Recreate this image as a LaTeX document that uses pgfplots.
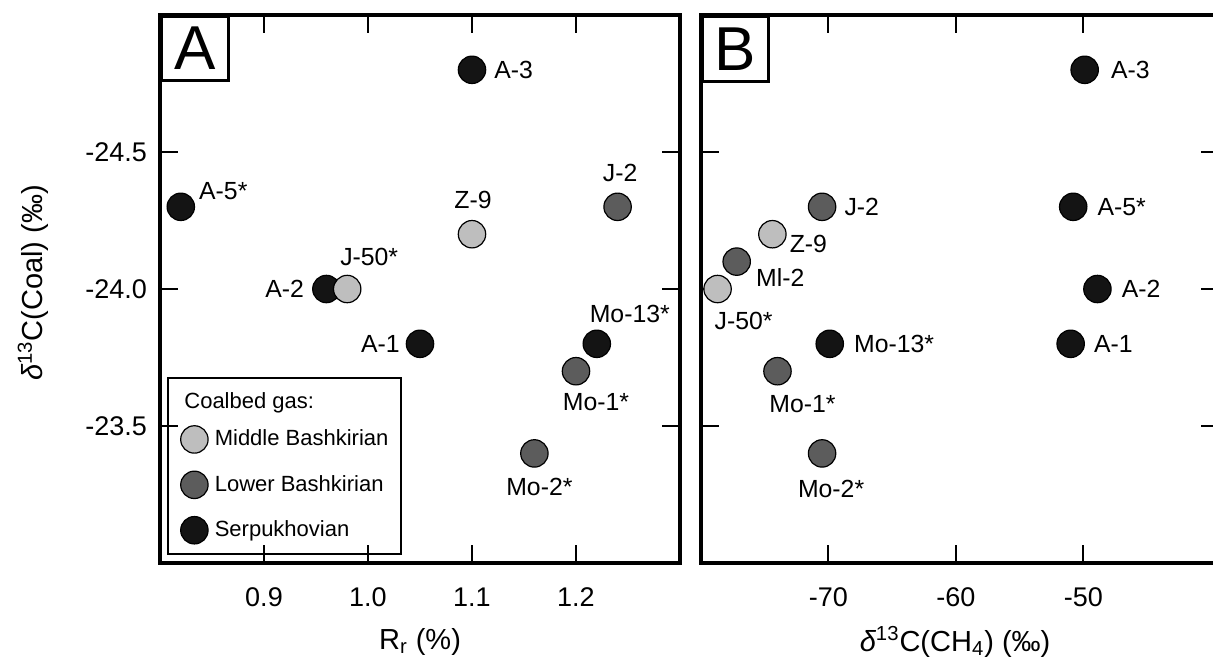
\documentclass[border=0pt]{standalone}
\usepackage{pgfplots}
\pgfplotsset{compat=1.18}
\usepackage{fontspec}
\setmainfont{Liberation Sans}

\definecolor{mbash}{HTML}{BEBEBE}
\definecolor{lbash}{HTML}{5C5C5C}
\definecolor{serp}{HTML}{141414}

\tikzset{lbl/.style={inner sep=0pt, font=\fontsize{12.4}{14}\selectfont}}
\pgfplotsset{
  mb/.style={mark=*, mark size=6.85pt, draw=none, mark options={fill=mbash, draw=black, line width=0.6pt}},
  lb/.style={mark=*, mark size=6.85pt, draw=none, mark options={fill=lbash, draw=black, line width=0.6pt}},
  sp/.style={mark=*, mark size=6.85pt, draw=none, mark options={fill=serp, draw=black, line width=0.6pt}},
  common/.style={
    scale only axis, height=274pt, clip=false, axis on top,
    y dir=reverse, ymin=-25, ymax=-23, ytick={-24.5,-24,-23.5},
    axis line style={line width=2.1pt},
    tick align=inside, major tick length=9pt,
    every tick/.append style={line width=1pt, black},
    tick label style={font=\fontsize{13.5}{16}\selectfont},
    /pgf/number format/assume math mode=true,
    xticklabel style={anchor=center, yshift=-17pt},
    label style={font=\fontsize{14.5}{17}\selectfont},
    xlabel style={at={(axis description cs:0.5,-0.1442)}, anchor=center},
  },
}

\begin{document}
\begin{tikzpicture}
\useasboundingbox (-80pt,-48.5pt) rectangle (526.5pt,281.5pt);

% Panel A
\begin{axis}[common, at={(0pt,0pt)}, anchor=south west, width=260pt,
  xmin=0.8, xmax=1.3, xtick={0.9,1.0,1.1,1.2},
  xticklabel style={/pgf/number format/.cd, fixed, fixed zerofill, precision=1},
  yticklabel style={xshift=-3pt, /pgf/number format/.cd, fixed, fixed zerofill, precision=1},
  xlabel={R\textsubscript{r} (\%)},
  ylabel={{\itshape δ}\textsuperscript{13}C(Coal) (‰)},
  ylabel style={at={(axis description cs:-0.2442,0.511)}, anchor=center},
  legend image code/.code={\draw[#1] plot coordinates {(0pt,0pt)};},
  legend style={draw=none, fill=none, at={(0.0398,0.2505)}, anchor=north west,
    inner sep=0pt, outer sep=0pt, row sep=9pt, column sep=3.35pt,
    font=\fontsize{11}{13}\selectfont, nodes={inner sep=0pt}},
  legend cell align=left,
]
\addlegendimage{mb}\addlegendentry{Middle Bashkirian}
\addlegendimage{lb}\addlegendentry{Lower Bashkirian}
\addlegendimage{sp}\addlegendentry{Serpukhovian}

% Serpukhovian
\addplot[sp, only marks, forget plot] coordinates {
  (1.10,-24.80) (0.82,-24.30) (0.96,-24.00) (1.05,-23.80) (1.22,-23.80)};
% Lower Bashkirian
\addplot[lb, only marks, forget plot] coordinates {
  (1.24,-24.30) (1.20,-23.70) (1.16,-23.40)};
% Middle Bashkirian
\addplot[mb, only marks, forget plot] coordinates {
  (1.10,-24.20) (0.98,-24.00)};

\node[lbl, anchor=west, xshift=11pt] at (axis cs:1.10,-24.80) {A-3};
\node[lbl, anchor=west, xshift=9pt, yshift=8pt] at (axis cs:0.82,-24.30) {A-5*};
\node[lbl, anchor=center, xshift=11pt, yshift=16pt] at (axis cs:0.98,-24.00) {J-50*};
\node[lbl, anchor=east, xshift=-11pt] at (axis cs:0.96,-24.00) {A-2};
\node[lbl, anchor=center, xshift=0.5pt, yshift=17pt] at (axis cs:1.10,-24.20) {Z-9};
\node[lbl, anchor=center, xshift=1.3pt, yshift=17pt] at (axis cs:1.24,-24.30) {J-2};
\node[lbl, anchor=east, xshift=-10pt] at (axis cs:1.05,-23.80) {A-1};
\node[lbl, anchor=center, xshift=16.5pt, yshift=14.75pt] at (axis cs:1.22,-23.80) {Mo-13*};
\node[lbl, anchor=center, xshift=10pt, yshift=-15.5pt] at (axis cs:1.20,-23.70) {Mo-1*};
\node[lbl, anchor=center, xshift=2.5pt, yshift=-17pt] at (axis cs:1.16,-23.40) {Mo-2*};

% legend frame and title
\draw[line width=1.2pt] (axis description cs:0.01538,0.01642) rectangle (axis description cs:0.4635,0.3376);
\node[anchor=west, inner sep=0pt, font=\fontsize{11}{13}\selectfont] at (axis description cs:0.04615,0.2920) {Coalbed gas:};

% panel letter
\node[draw, line width=1.5pt, anchor=north west, minimum width=33.5pt, minimum height=32pt,
  inner sep=0pt, fill=white, font=\fontsize{31}{31}\selectfont] at (axis description cs:0,1) {A};
\end{axis}

% Panel B (its right frame lies just beyond the picture's edge)
\begin{axis}[common, at={(270.5pt,0pt)}, anchor=south west, width=258.75pt,
  xmin=-80, xmax=-39.4, xtick={-70,-60,-50},
  yticklabels={},
  xlabel={{\itshape δ}\textsuperscript{13}C(CH\textsubscript{4}) (‰)},
  xlabel style={at={(axis description cs:0.491,-0.1442)}, anchor=center},
]
% Serpukhovian
\addplot[sp, only marks] coordinates {
  (-49.9,-24.80) (-50.8,-24.30) (-48.9,-24.00) (-51.0,-23.80) (-69.9,-23.80)};
% Lower Bashkirian
\addplot[lb, only marks] coordinates {
  (-70.5,-24.30) (-77.2,-24.10) (-74.0,-23.70) (-70.5,-23.40)};
% Middle Bashkirian
\addplot[mb, only marks] coordinates {
  (-74.4,-24.20) (-78.7,-24.00)};

\node[lbl, anchor=west, xshift=13pt] at (axis cs:-49.9,-24.80) {A-3};
\node[lbl, anchor=west, xshift=12pt] at (axis cs:-50.8,-24.30) {A-5*};
\node[lbl, anchor=west, xshift=12pt] at (axis cs:-48.9,-24.00) {A-2};
\node[lbl, anchor=west, xshift=11.5pt] at (axis cs:-51.0,-23.80) {A-1};
\node[lbl, anchor=west, xshift=11pt] at (axis cs:-70.5,-24.30) {J-2};
\node[lbl, anchor=west, xshift=8.5pt, yshift=-5pt] at (axis cs:-74.4,-24.20) {Z-9};
\node[lbl, anchor=west, xshift=9.5pt, yshift=-8pt] at (axis cs:-77.2,-24.10) {Ml-2};
\node[lbl, anchor=center, xshift=13pt, yshift=-16pt] at (axis cs:-78.7,-24.00) {J-50*};
\node[lbl, anchor=west, xshift=12pt] at (axis cs:-69.9,-23.80) {Mo-13*};
\node[lbl, anchor=center, xshift=12.5pt, yshift=-16.5pt] at (axis cs:-74.0,-23.70) {Mo-1*};
\node[lbl, anchor=center, xshift=4.5pt, yshift=-18pt] at (axis cs:-70.5,-23.40) {Mo-2*};

\node[draw, line width=1.5pt, anchor=north west, minimum width=33pt, minimum height=32.5pt,
  inner sep=0pt, fill=white, font=\fontsize{31}{31}\selectfont] at (axis description cs:0,1) {B};
\end{axis}
\end{tikzpicture}
\end{document}
